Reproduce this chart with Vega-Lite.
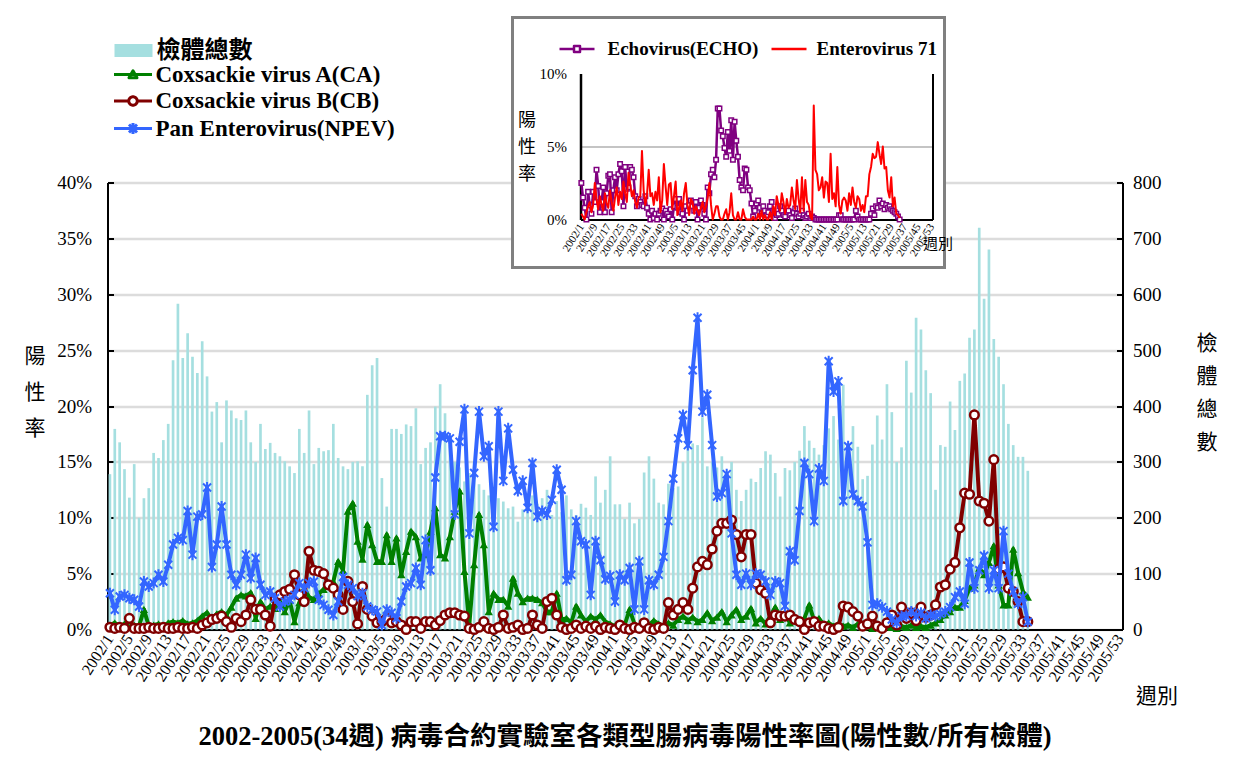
{
  "$schema": "https://vega.github.io/schema/vega-lite/v6.json",
  "background": "white",
  "padding": {"left": 8.5, "top": 9.5, "right": 0, "bottom": 0},
  "spacing": 0,
  "bounds": "flush",
  "resolve": {
    "scale": {"stroke": "independent", "strokeDash": "independent", "fill": "independent", "opacity": "independent", "strokeWidth": "independent"},
    "legend": {"stroke": "independent", "strokeDash": "independent", "fill": "independent", "opacity": "independent", "strokeWidth": "independent"}
  },
  "config": {
    "font": "Liberation Serif",
    "view": {"stroke": null},
    "axis": {"labelFont": "Liberation Serif", "titleFont": "Noto Sans CJK TC", "labelColor": "black", "titleColor": "black", "domainColor": "black", "tickColor": "black"},
    "legend": {"labelFont": "Liberation Serif, Noto Sans CJK TC", "labelFontWeight": "bold", "labelColor": "black", "labelLimit": 500, "title": null, "orient": "none", "padding": 0},
    "line": {"strokeJoin": "round"}
  },
  "datasets": {
    "weeks": [
      {"w":"2002/1","n":278,"ca":0.4,"cb":0.2,"npev":3.25,"echo":2.5,"ev71":0.4},
      {"w":"2002/2","n":359,"ca":0.6,"cb":0.1,"npev":1.76,"echo":1.5,"ev71":0.2},
      {"w":"2002/3","n":335,"ca":0.3,"cb":0.2,"npev":2.96,"echo":0.8,"ev71":0.0},
      {"w":"2002/4","n":287,"ca":0.5,"cb":0.1,"npev":3.1,"echo":0.0,"ev71":0.5},
      {"w":"2002/5","n":236,"ca":0.2,"cb":1.0,"npev":2.8,"echo":1.9,"ev71":0.9},
      {"w":"2002/6","n":296,"ca":0.4,"cb":0.1,"npev":2.66,"echo":1.0,"ev71":1.2},
      {"w":"2002/7","n":200,"ca":0.3,"cb":0.1,"npev":2.06,"echo":0.4,"ev71":0.5},
      {"w":"2002/8","n":235,"ca":1.8,"cb":0.1,"npev":4.3,"echo":1.9,"ev71":1.0},
      {"w":"2002/9","n":253,"ca":0.3,"cb":0.2,"npev":3.85,"echo":1.2,"ev71":2.5},
      {"w":"2002/10","n":316,"ca":0.4,"cb":0.1,"npev":4.15,"echo":3.4,"ev71":1.4},
      {"w":"2002/11","n":307,"ca":0.5,"cb":0.1,"npev":4.9,"echo":2.3,"ev71":0.7},
      {"w":"2002/12","n":339,"ca":0.3,"cb":0.2,"npev":4.3,"echo":0.5,"ev71":1.6},
      {"w":"2002/13","n":368,"ca":0.6,"cb":0.1,"npev":5.8,"echo":1.2,"ev71":1.0},
      {"w":"2002/14","n":482,"ca":0.7,"cb":0.1,"npev":7.6,"echo":2.2,"ev71":0.6},
      {"w":"2002/15","n":583,"ca":0.6,"cb":0.2,"npev":8.2,"echo":0.5,"ev71":1.8},
      {"w":"2002/16","n":486,"ca":0.8,"cb":0.1,"npev":8.0,"echo":1.8,"ev71":1.1},
      {"w":"2002/17","n":530,"ca":0.5,"cb":0.1,"npev":10.6,"echo":3.0,"ev71":0.8},
      {"w":"2002/18","n":488,"ca":0.6,"cb":0.2,"npev":6.7,"echo":3.1,"ev71":2.0},
      {"w":"2002/19","n":459,"ca":0.8,"cb":0.1,"npev":10.1,"echo":0.5,"ev71":1.2},
      {"w":"2002/20","n":516,"ca":1.2,"cb":0.4,"npev":10.3,"echo":2.0,"ev71":0.6},
      {"w":"2002/21","n":453,"ca":1.5,"cb":0.6,"npev":12.7,"echo":2.9,"ev71":1.5},
      {"w":"2002/22","n":390,"ca":0.9,"cb":0.9,"npev":5.6,"echo":2.0,"ev71":2.2},
      {"w":"2002/23","n":407,"ca":1.4,"cb":1.0,"npev":7.6,"echo":3.1,"ev71":1.0},
      {"w":"2002/24","n":335,"ca":1.6,"cb":1.2,"npev":11.0,"echo":3.8,"ev71":1.9},
      {"w":"2002/25","n":410,"ca":1.3,"cb":0.7,"npev":7.6,"echo":3.3,"ev71":1.4},
      {"w":"2002/26","n":392,"ca":2.0,"cb":0.2,"npev":4.9,"echo":0.9,"ev71":2.6},
      {"w":"2002/27","n":378,"ca":2.8,"cb":1.0,"npev":4.0,"echo":3.6,"ev71":1.8},
      {"w":"2002/28","n":375,"ca":3.1,"cb":0.7,"npev":4.9,"echo":2.1,"ev71":1.2},
      {"w":"2002/29","n":392,"ca":3.0,"cb":1.3,"npev":6.7,"echo":2.2,"ev71":3.2},
      {"w":"2002/30","n":335,"ca":3.3,"cb":2.66,"npev":4.6,"echo":3.6,"ev71":2.4},
      {"w":"2002/31","n":300,"ca":1.0,"cb":1.8,"npev":6.4,"echo":3.4,"ev71":1.6},
      {"w":"2002/32","n":368,"ca":2.5,"cb":1.8,"npev":4.0,"echo":2.9,"ev71":2.0},
      {"w":"2002/33","n":323,"ca":1.8,"cb":1.3,"npev":3.1,"echo":1.6,"ev71":1.2},
      {"w":"2002/34","n":334,"ca":2.1,"cb":0.3,"npev":3.4,"echo":0.9,"ev71":0.8},
      {"w":"2002/35","n":316,"ca":1.9,"cb":2.8,"npev":2.8,"echo":1.4,"ev71":1.5},
      {"w":"2002/36","n":310,"ca":2.5,"cb":3.1,"npev":2.06,"echo":1.2,"ev71":1.6},
      {"w":"2002/37","n":301,"ca":1.6,"cb":3.4,"npev":2.5,"echo":1.0,"ev71":4.7},
      {"w":"2002/38","n":292,"ca":2.6,"cb":3.6,"npev":2.66,"echo":0.9,"ev71":2.0},
      {"w":"2002/39","n":280,"ca":0.7,"cb":4.9,"npev":3.1,"echo":1.6,"ev71":1.0},
      {"w":"2002/40","n":359,"ca":2.4,"cb":3.1,"npev":4.15,"echo":0.8,"ev71":1.7},
      {"w":"2002/41","n":316,"ca":3.7,"cb":2.5,"npev":3.7,"echo":0.4,"ev71":3.4},
      {"w":"2002/42","n":392,"ca":2.9,"cb":7.0,"npev":4.15,"echo":0.0,"ev71":1.6},
      {"w":"2002/43","n":296,"ca":2.7,"cb":5.3,"npev":4.3,"echo":0.6,"ev71":1.8},
      {"w":"2002/44","n":325,"ca":3.2,"cb":5.2,"npev":2.66,"echo":0.1,"ev71":1.0},
      {"w":"2002/45","n":319,"ca":3.6,"cb":5.0,"npev":2.2,"echo":0.4,"ev71":1.9},
      {"w":"2002/46","n":321,"ca":3.9,"cb":4.0,"npev":1.76,"echo":0.0,"ev71":1.3},
      {"w":"2002/47","n":368,"ca":4.3,"cb":3.7,"npev":1.3,"echo":0.4,"ev71":2.9},
      {"w":"2002/48","n":307,"ca":6.1,"cb":3.1,"npev":2.5,"echo":0.6,"ev71":0.5},
      {"w":"2002/49","n":292,"ca":5.3,"cb":1.8,"npev":4.7,"echo":0.75,"ev71":1.3},
      {"w":"2002/50","n":287,"ca":10.6,"cb":4.3,"npev":4.0,"echo":0.0,"ev71":3.8},
      {"w":"2002/51","n":300,"ca":11.3,"cb":2.5,"npev":3.7,"echo":0.6,"ev71":2.3},
      {"w":"2002/52","n":301,"ca":7.9,"cb":0.5,"npev":3.0,"echo":0.4,"ev71":1.0},
      {"w":"2003/1","n":292,"ca":6.3,"cb":3.85,"npev":3.25,"echo":0.2,"ev71":2.4},
      {"w":"2003/2","n":420,"ca":9.4,"cb":1.8,"npev":2.06,"echo":0.7,"ev71":2.5},
      {"w":"2003/3","n":473,"ca":7.6,"cb":1.2,"npev":1.76,"echo":0.0,"ev71":0.7},
      {"w":"2003/4","n":486,"ca":6.1,"cb":0.6,"npev":1.6,"echo":0.9,"ev71":1.6},
      {"w":"2003/5","n":271,"ca":6.1,"cb":0.7,"npev":0.4,"echo":1.4,"ev71":2.6},
      {"w":"2003/6","n":220,"ca":8.5,"cb":1.0,"npev":1.76,"echo":0.8,"ev71":0.3},
      {"w":"2003/7","n":359,"ca":6.1,"cb":0.6,"npev":1.5,"echo":1.4,"ev71":0.8},
      {"w":"2003/8","n":359,"ca":8.2,"cb":0.7,"npev":1.0,"echo":0.5,"ev71":1.3},
      {"w":"2003/9","n":350,"ca":4.9,"cb":0.4,"npev":2.5,"echo":0.4,"ev71":0.6},
      {"w":"2003/10","n":367,"ca":7.0,"cb":0.0,"npev":3.85,"echo":0.0,"ev71":1.8},
      {"w":"2003/11","n":364,"ca":8.8,"cb":0.7,"npev":4.15,"echo":0.9,"ev71":2.5},
      {"w":"2003/12","n":396,"ca":8.3,"cb":0.7,"npev":5.5,"echo":0.6,"ev71":1.0},
      {"w":"2003/13","n":296,"ca":6.4,"cb":0.1,"npev":4.0,"echo":1.0,"ev71":0.3},
      {"w":"2003/14","n":325,"ca":6.7,"cb":0.7,"npev":8.0,"echo":1.3,"ev71":1.4},
      {"w":"2003/15","n":335,"ca":8.8,"cb":0.7,"npev":5.3,"echo":0.9,"ev71":1.2},
      {"w":"2003/16","n":399,"ca":10.9,"cb":0.4,"npev":13.6,"echo":0.6,"ev71":0.4},
      {"w":"2003/17","n":439,"ca":6.7,"cb":0.8,"npev":17.3,"echo":1.2,"ev71":0.9},
      {"w":"2003/18","n":387,"ca":6.4,"cb":1.3,"npev":17.3,"echo":0.0,"ev71":0.6},
      {"w":"2003/19","n":330,"ca":8.3,"cb":1.5,"npev":17.1,"echo":0.8,"ev71":0.3},
      {"w":"2003/20","n":300,"ca":10.6,"cb":1.5,"npev":10.3,"echo":1.3,"ev71":0.8},
      {"w":"2003/21","n":290,"ca":12.4,"cb":1.3,"npev":16.8,"echo":1.0,"ev71":1.2},
      {"w":"2003/22","n":265,"ca":5.2,"cb":1.2,"npev":19.7,"echo":0.4,"ev71":0.5},
      {"w":"2003/23","n":280,"ca":0.4,"cb":0.1,"npev":8.6,"echo":0.0,"ev71":0.9},
      {"w":"2003/24","n":300,"ca":5.8,"cb":0.0,"npev":14.0,"echo":2.2,"ev71":1.5},
      {"w":"2003/25","n":260,"ca":10.3,"cb":0.2,"npev":19.5,"echo":1.8,"ev71":2.5},
      {"w":"2003/26","n":250,"ca":7.6,"cb":0.7,"npev":15.5,"echo":3.1,"ev71":1.0},
      {"w":"2003/27","n":240,"ca":1.6,"cb":0.1,"npev":16.4,"echo":3.4,"ev71":0.0},
      {"w":"2003/28","n":245,"ca":3.25,"cb":0.0,"npev":9.2,"echo":2.9,"ev71":0.4},
      {"w":"2003/29","n":235,"ca":2.7,"cb":0.2,"npev":19.5,"echo":4.1,"ev71":0.9},
      {"w":"2003/30","n":229,"ca":2.7,"cb":1.3,"npev":13.3,"echo":7.6,"ev71":0.9},
      {"w":"2003/31","n":217,"ca":2.1,"cb":0.1,"npev":18.0,"echo":7.6,"ev71":0.2},
      {"w":"2003/32","n":220,"ca":4.6,"cb":0.2,"npev":14.3,"echo":6.1,"ev71":0.0},
      {"w":"2003/33","n":193,"ca":3.25,"cb":0.4,"npev":12.4,"echo":5.7,"ev71":0.0},
      {"w":"2003/34","n":215,"ca":2.5,"cb":0.0,"npev":13.3,"echo":4.9,"ev71":0.4},
      {"w":"2003/35","n":230,"ca":2.8,"cb":0.1,"npev":10.9,"echo":4.3,"ev71":0.7},
      {"w":"2003/36","n":240,"ca":2.8,"cb":1.3,"npev":14.9,"echo":6.0,"ev71":0.0},
      {"w":"2003/37","n":225,"ca":2.7,"cb":0.4,"npev":10.1,"echo":4.7,"ev71":0.5},
      {"w":"2003/38","n":235,"ca":2.4,"cb":0.1,"npev":10.6,"echo":6.8,"ev71":1.8},
      {"w":"2003/39","n":250,"ca":1.6,"cb":2.5,"npev":10.3,"echo":4.1,"ev71":0.3},
      {"w":"2003/40","n":205,"ca":1.6,"cb":2.8,"npev":11.6,"echo":6.7,"ev71":0.0},
      {"w":"2003/41","n":230,"ca":3.25,"cb":1.3,"npev":14.3,"echo":5.4,"ev71":0.0},
      {"w":"2003/42","n":210,"ca":0.9,"cb":0.2,"npev":12.5,"echo":4.3,"ev71":0.5},
      {"w":"2003/43","n":240,"ca":1.0,"cb":0.0,"npev":4.4,"echo":2.7,"ev71":0.0},
      {"w":"2003/44","n":215,"ca":0.6,"cb":0.1,"npev":4.9,"echo":2.2,"ev71":0.0},
      {"w":"2003/45","n":205,"ca":2.1,"cb":0.4,"npev":9.7,"echo":2.0,"ev71":0.7},
      {"w":"2003/46","n":225,"ca":1.3,"cb":0.1,"npev":7.9,"echo":3.5,"ev71":0.2},
      {"w":"2003/47","n":218,"ca":0.7,"cb":0.3,"npev":7.6,"echo":3.4,"ev71":0.0},
      {"w":"2003/48","n":205,"ca":1.2,"cb":0.1,"npev":3.1,"echo":2.2,"ev71":0.0},
      {"w":"2003/49","n":274,"ca":0.9,"cb":0.3,"npev":7.9,"echo":2.0,"ev71":0.0},
      {"w":"2003/50","n":227,"ca":1.3,"cb":0.0,"npev":6.2,"echo":1.1,"ev71":0.0},
      {"w":"2003/51","n":250,"ca":0.7,"cb":0.2,"npev":4.5,"echo":0.2,"ev71":0.2},
      {"w":"2003/52","n":310,"ca":0.5,"cb":0.1,"npev":4.8,"echo":0.6,"ev71":0.0},
      {"w":"2004/1","n":224,"ca":0.3,"cb":0.0,"npev":2.5,"echo":1.1,"ev71":0.0},
      {"w":"2004/2","n":224,"ca":0.6,"cb":0.4,"npev":4.9,"echo":1.3,"ev71":0.4},
      {"w":"2004/3","n":198,"ca":0.4,"cb":0.1,"npev":4.4,"echo":0.8,"ev71":0.0},
      {"w":"2004/4","n":227,"ca":1.8,"cb":0.0,"npev":5.5,"echo":0.4,"ev71":0.6},
      {"w":"2004/5","n":190,"ca":0.5,"cb":0.2,"npev":1.8,"echo":0.9,"ev71":0.0},
      {"w":"2004/6","n":198,"ca":0.3,"cb":0.1,"npev":6.1,"echo":0.6,"ev71":0.3},
      {"w":"2004/7","n":281,"ca":0.6,"cb":0.6,"npev":1.8,"echo":0.3,"ev71":0.0},
      {"w":"2004/8","n":310,"ca":0.4,"cb":0.1,"npev":4.4,"echo":0.5,"ev71":0.0},
      {"w":"2004/9","n":270,"ca":0.8,"cb":0.0,"npev":4.0,"echo":0.9,"ev71":0.5},
      {"w":"2004/10","n":227,"ca":0.5,"cb":0.2,"npev":4.9,"echo":1.2,"ev71":0.0},
      {"w":"2004/11","n":224,"ca":0.3,"cb":0.1,"npev":6.5,"echo":0.6,"ev71":0.9},
      {"w":"2004/12","n":261,"ca":0.6,"cb":2.4,"npev":9.7,"echo":0.1,"ev71":0.3},
      {"w":"2004/13","n":253,"ca":0.4,"cb":1.3,"npev":13.5,"echo":0.3,"ev71":1.6},
      {"w":"2004/14","n":256,"ca":0.9,"cb":1.8,"npev":17.1,"echo":0.4,"ev71":1.0},
      {"w":"2004/15","n":300,"ca":1.2,"cb":2.4,"npev":19.2,"echo":0.9,"ev71":0.6},
      {"w":"2004/16","n":328,"ca":0.8,"cb":1.8,"npev":16.5,"echo":0.6,"ev71":1.8},
      {"w":"2004/17","n":333,"ca":1.1,"cb":3.7,"npev":23.2,"echo":0.3,"ev71":1.2},
      {"w":"2004/18","n":330,"ca":0.7,"cb":5.6,"npev":27.9,"echo":0.2,"ev71":0.4},
      {"w":"2004/19","n":380,"ca":0.9,"cb":6.1,"npev":19.5,"echo":0.5,"ev71":1.4},
      {"w":"2004/20","n":292,"ca":1.5,"cb":5.8,"npev":21.0,"echo":0.6,"ev71":0.8},
      {"w":"2004/21","n":300,"ca":0.8,"cb":7.2,"npev":16.5,"echo":0.3,"ev71":1.0},
      {"w":"2004/22","n":290,"ca":1.1,"cb":8.8,"npev":11.9,"echo":0.1,"ev71":2.2},
      {"w":"2004/23","n":310,"ca":1.6,"cb":9.5,"npev":12.2,"echo":0.5,"ev71":1.3},
      {"w":"2004/24","n":280,"ca":0.7,"cb":9.5,"npev":13.9,"echo":0.75,"ev71":0.7},
      {"w":"2004/25","n":300,"ca":1.3,"cb":9.8,"npev":8.6,"echo":0.4,"ev71":2.7},
      {"w":"2004/26","n":250,"ca":1.8,"cb":8.5,"npev":4.9,"echo":0.2,"ev71":1.4},
      {"w":"2004/27","n":230,"ca":0.9,"cb":6.5,"npev":4.0,"echo":0.4,"ev71":0.5},
      {"w":"2004/28","n":250,"ca":1.2,"cb":8.5,"npev":5.0,"echo":0.6,"ev71":2.9},
      {"w":"2004/29","n":270,"ca":1.9,"cb":8.5,"npev":4.0,"echo":0.3,"ev71":0.6},
      {"w":"2004/30","n":264,"ca":0.6,"cb":4.15,"npev":5.0,"echo":0.1,"ev71":2.7},
      {"w":"2004/31","n":289,"ca":1.0,"cb":3.55,"npev":4.9,"echo":0.2,"ev71":1.2},
      {"w":"2004/32","n":319,"ca":0.5,"cb":3.25,"npev":4.3,"echo":0.4,"ev71":1.0},
      {"w":"2004/33","n":313,"ca":1.2,"cb":0.6,"npev":3.1,"echo":0.1,"ev71":0.2},
      {"w":"2004/34","n":280,"ca":2.0,"cb":1.3,"npev":4.3,"echo":0.2,"ev71":0.0},
      {"w":"2004/35","n":238,"ca":0.9,"cb":1.2,"npev":4.15,"echo":0.1,"ev71":7.8},
      {"w":"2004/36","n":289,"ca":1.4,"cb":1.2,"npev":2.1,"echo":0.0,"ev71":3.4},
      {"w":"2004/37","n":285,"ca":0.6,"cb":1.3,"npev":7.0,"echo":0.0,"ev71":3.1},
      {"w":"2004/38","n":300,"ca":1.1,"cb":0.9,"npev":6.2,"echo":0.0,"ev71":2.0},
      {"w":"2004/39","n":320,"ca":0.7,"cb":0.7,"npev":10.6,"echo":0.0,"ev71":2.2},
      {"w":"2004/40","n":364,"ca":1.0,"cb":0.0,"npev":14.9,"echo":0.0,"ev71":2.9},
      {"w":"2004/41","n":338,"ca":2.2,"cb":0.6,"npev":13.9,"echo":0.0,"ev71":1.5},
      {"w":"2004/42","n":325,"ca":0.8,"cb":0.7,"npev":9.7,"echo":0.0,"ev71":2.6},
      {"w":"2004/43","n":313,"ca":1.0,"cb":0.3,"npev":14.4,"echo":0.0,"ev71":2.5},
      {"w":"2004/44","n":330,"ca":0.4,"cb":0.3,"npev":13.3,"echo":0.0,"ev71":1.2},
      {"w":"2004/45","n":360,"ca":0.6,"cb":0.1,"npev":24.0,"echo":0.0,"ev71":4.5},
      {"w":"2004/46","n":382,"ca":0.3,"cb":0.0,"npev":21.3,"echo":0.0,"ev71":1.4},
      {"w":"2004/47","n":340,"ca":0.5,"cb":0.2,"npev":22.2,"echo":0.0,"ev71":1.8},
      {"w":"2004/48","n":438,"ca":0.3,"cb":2.1,"npev":11.5,"echo":0.0,"ev71":0.9},
      {"w":"2004/49","n":300,"ca":0.4,"cb":2.0,"npev":16.4,"echo":0.0,"ev71":3.6},
      {"w":"2004/50","n":364,"ca":0.2,"cb":1.6,"npev":12.1,"echo":0.3,"ev71":1.0},
      {"w":"2004/51","n":327,"ca":0.5,"cb":1.2,"npev":11.5,"echo":0.3,"ev71":0.4},
      {"w":"2004/52","n":269,"ca":0.2,"cb":0.3,"npev":11.0,"echo":0.0,"ev71":1.3},
      {"w":"2005/1","n":275,"ca":0.3,"cb":0.5,"npev":7.8,"echo":0.0,"ev71":1.5},
      {"w":"2005/2","n":331,"ca":0.1,"cb":1.2,"npev":2.2,"echo":0.0,"ev71":1.3},
      {"w":"2005/3","n":383,"ca":0.2,"cb":0.3,"npev":2.3,"echo":0.0,"ev71":0.6},
      {"w":"2005/4","n":340,"ca":0.1,"cb":0.1,"npev":2.0,"echo":0.0,"ev71":1.8},
      {"w":"2005/5","n":439,"ca":0.3,"cb":0.6,"npev":1.6,"echo":0.0,"ev71":1.0},
      {"w":"2005/6","n":389,"ca":0.2,"cb":1.3,"npev":0.9,"echo":0.0,"ev71":2.2},
      {"w":"2005/7","n":300,"ca":0.1,"cb":0.4,"npev":0.6,"echo":0.0,"ev71":1.2},
      {"w":"2005/8","n":326,"ca":0.3,"cb":2.0,"npev":1.2,"echo":0.6,"ev71":0.8},
      {"w":"2005/9","n":481,"ca":0.2,"cb":1.0,"npev":1.2,"echo":0.2,"ev71":1.6},
      {"w":"2005/10","n":424,"ca":0.4,"cb":1.5,"npev":1.6,"echo":0.0,"ev71":1.4},
      {"w":"2005/11","n":558,"ca":0.2,"cb":0.8,"npev":1.2,"echo":0.0,"ev71":0.6},
      {"w":"2005/12","n":537,"ca":0.3,"cb":2.0,"npev":1.5,"echo":0.0,"ev71":1.0},
      {"w":"2005/13","n":464,"ca":0.2,"cb":1.1,"npev":1.0,"echo":0.0,"ev71":0.5},
      {"w":"2005/14","n":423,"ca":0.4,"cb":1.3,"npev":1.3,"echo":0.0,"ev71":1.6},
      {"w":"2005/15","n":250,"ca":0.6,"cb":2.2,"npev":1.2,"echo":0.0,"ev71":1.6},
      {"w":"2005/16","n":330,"ca":0.9,"cb":3.8,"npev":1.4,"echo":0.0,"ev71":3.1},
      {"w":"2005/17","n":327,"ca":1.3,"cb":4.0,"npev":1.6,"echo":0.4,"ev71":3.6},
      {"w":"2005/18","n":408,"ca":1.6,"cb":5.4,"npev":2.0,"echo":0.75,"ev71":4.5},
      {"w":"2005/19","n":357,"ca":2.0,"cb":6.0,"npev":2.9,"echo":0.3,"ev71":4.2},
      {"w":"2005/20","n":445,"ca":2.0,"cb":9.1,"npev":3.4,"echo":0.9,"ev71":4.3},
      {"w":"2005/21","n":458,"ca":2.6,"cb":12.2,"npev":2.3,"echo":0.8,"ev71":5.3},
      {"w":"2005/22","n":522,"ca":3.7,"cb":12.1,"npev":6.0,"echo":1.3,"ev71":4.5},
      {"w":"2005/23","n":537,"ca":4.0,"cb":19.2,"npev":3.7,"echo":0.9,"ev71":3.8},
      {"w":"2005/24","n":719,"ca":5.5,"cb":11.5,"npev":5.3,"echo":1.1,"ev71":5.0},
      {"w":"2005/25","n":592,"ca":4.9,"cb":11.3,"npev":6.6,"echo":0.7,"ev71":3.5},
      {"w":"2005/26","n":680,"ca":6.0,"cb":9.7,"npev":3.7,"echo":1.0,"ev71":3.6},
      {"w":"2005/27","n":520,"ca":7.5,"cb":15.2,"npev":5.3,"echo":0.8,"ev71":2.0},
      {"w":"2005/28","n":488,"ca":4.0,"cb":5.4,"npev":3.7,"echo":0.9,"ev71":1.5},
      {"w":"2005/29","n":439,"ca":2.2,"cb":5.6,"npev":8.8,"echo":0.7,"ev71":2.9},
      {"w":"2005/30","n":368,"ca":2.2,"cb":3.7,"npev":5.0,"echo":0.6,"ev71":0.9},
      {"w":"2005/31","n":330,"ca":7.2,"cb":3.4,"npev":3.4,"echo":0.5,"ev71":1.5},
      {"w":"2005/32","n":309,"ca":5.1,"cb":2.5,"npev":2.3,"echo":0.4,"ev71":0.4},
      {"w":"2005/33","n":309,"ca":3.4,"cb":0.7,"npev":2.9,"echo":0.2,"ev71":0.3},
      {"w":"2005/34","n":284,"ca":2.9,"cb":0.7,"npev":0.7,"echo":0.0,"ev71":0.1}
    ]
  },
  "vconcat": [
    {
      "width": 1015,
      "height": 1,
      "data": {"name": "weeks"},
      "title": {"text": "2002-2005(34週) 病毒合約實驗室各類型腸病毒陽性率圖(陽性數/所有檢體)", "orient": "bottom", "anchor": "middle", "dx": 10, "offset": 17, "font": "Liberation Serif, Noto Sans CJK TC", "fontSize": 26.5, "fontWeight": "bold", "color": "black"},
      "encoding": {
        "x": {
          "field": "w", "type": "ordinal",
          "scale": {"paddingInner": 0.45, "paddingOuter": 0.225, "domain": ["2002/1","2002/2","2002/3","2002/4","2002/5","2002/6","2002/7","2002/8","2002/9","2002/10","2002/11","2002/12","2002/13","2002/14","2002/15","2002/16","2002/17","2002/18","2002/19","2002/20","2002/21","2002/22","2002/23","2002/24","2002/25","2002/26","2002/27","2002/28","2002/29","2002/30","2002/31","2002/32","2002/33","2002/34","2002/35","2002/36","2002/37","2002/38","2002/39","2002/40","2002/41","2002/42","2002/43","2002/44","2002/45","2002/46","2002/47","2002/48","2002/49","2002/50","2002/51","2002/52","2003/1","2003/2","2003/3","2003/4","2003/5","2003/6","2003/7","2003/8","2003/9","2003/10","2003/11","2003/12","2003/13","2003/14","2003/15","2003/16","2003/17","2003/18","2003/19","2003/20","2003/21","2003/22","2003/23","2003/24","2003/25","2003/26","2003/27","2003/28","2003/29","2003/30","2003/31","2003/32","2003/33","2003/34","2003/35","2003/36","2003/37","2003/38","2003/39","2003/40","2003/41","2003/42","2003/43","2003/44","2003/45","2003/46","2003/47","2003/48","2003/49","2003/50","2003/51","2003/52","2004/1","2004/2","2004/3","2004/4","2004/5","2004/6","2004/7","2004/8","2004/9","2004/10","2004/11","2004/12","2004/13","2004/14","2004/15","2004/16","2004/17","2004/18","2004/19","2004/20","2004/21","2004/22","2004/23","2004/24","2004/25","2004/26","2004/27","2004/28","2004/29","2004/30","2004/31","2004/32","2004/33","2004/34","2004/35","2004/36","2004/37","2004/38","2004/39","2004/40","2004/41","2004/42","2004/43","2004/44","2004/45","2004/46","2004/47","2004/48","2004/49","2004/50","2004/51","2004/52","2005/1","2005/2","2005/3","2005/4","2005/5","2005/6","2005/7","2005/8","2005/9","2005/10","2005/11","2005/12","2005/13","2005/14","2005/15","2005/16","2005/17","2005/18","2005/19","2005/20","2005/21","2005/22","2005/23","2005/24","2005/25","2005/26","2005/27","2005/28","2005/29","2005/30","2005/31","2005/32","2005/33","2005/34","2005/35","2005/36","2005/37","2005/38","2005/39","2005/40","2005/41","2005/42","2005/43","2005/44","2005/45","2005/46","2005/47","2005/48","2005/49","2005/50","2005/51","2005/52","2005/53"]},
          "axis": {
            "offset": 612,
            "values": ["2002/1","2002/5","2002/9","2002/13","2002/17","2002/21","2002/25","2002/29","2002/33","2002/37","2002/41","2002/45","2002/49","2003/1","2003/5","2003/9","2003/13","2003/17","2003/21","2003/25","2003/29","2003/33","2003/37","2003/41","2003/45","2003/49","2004/1","2004/5","2004/9","2004/13","2004/17","2004/21","2004/25","2004/29","2004/33","2004/37","2004/41","2004/45","2004/49","2005/1","2005/5","2005/9","2005/13","2005/17","2005/21","2005/25","2005/29","2005/33","2005/37","2005/41","2005/45","2005/49","2005/53"],
            "labelAngle": -57, "labelAlign": "right", "labelBaseline": "middle", "labelFontSize": 16, "labelPadding": 6, "labelOverlap": false,
            "ticks": false, "domainWidth": 2, "grid": false,
            "title": "週別", "titleFontSize": 21, "titleFontWeight": "normal", "titleX": 1049, "titleY": 67, "titleAlign": "center", "titleBaseline": "middle"
          }
        }
      },
      "layer": [
        {
          "mark": {"type": "bar"},
          "encoding": {
            "y": {"field": "n", "type": "quantitative", "scale": {"domain": [0, 800], "range": [613, 166]},
              "axis": {"orient": "right", "values": [0,100,200,300,400,500,600,700,800], "labelFontSize": 19, "labelPadding": 16, "tickSize": -6, "tickWidth": 2, "domainWidth": 2, "grid": false,
                "title": ["檢","體","總","數"], "titleAngle": 0, "titleX": 84, "titleY": 316, "titleAlign": "center", "titleBaseline": "top", "titleFontSize": 21, "titleFontWeight": "normal", "titleLineHeight": 33}},
            "fill": {"datum": "檢體總數", "scale": {"range": ["#a5dfe0"]},
              "legend": {"legendX": 14, "legendY": 22, "symbolType": "M-3.8,-1.3H3.8V1.3H-3.8Z", "symbolSize": 100, "symbolStrokeWidth": 0, "labelOffset": 11, "labelFontSize": 24}},
            "strokeWidth": {"datum": "frame", "type": "ordinal", "scale": {"range": [0, 0]},
              "legend": {"legendX": -98, "legendY": -6, "padding": 5, "labelExpr": "''", "symbolSize": 1, "symbolOpacity": 0, "symbolStrokeColor": "transparent", "symbolFillColor": "transparent", "labelOffset": 0, "labelFontSize": 1, "strokeColor": "transparent"}}
          }
        },
        {
          "layer": [
            {
              "mark": {"type": "line", "strokeWidth": 4},
              "encoding": {
                "y": {"field": "ca", "type": "quantitative", "scale": {"domain": [0, 40], "range": [613, 166]},
                  "axis": {"orient": "left", "values": [0,5,10,15,20,25,30,35,40], "labelExpr": "datum.value + '%'", "labelFontSize": 19, "labelPadding": 22, "tickSize": -6, "tickWidth": 2, "domainWidth": 2, "grid": true, "gridColor": "#dcdcdc", "gridWidth": 2.5,
                    "title": ["陽","性","率"], "titleAngle": 0, "titleX": -73, "titleY": 329, "titleAlign": "center", "titleBaseline": "top", "titleFontSize": 21, "titleFontWeight": "normal", "titleLineHeight": 36}},
                "stroke": {"datum": "Coxsackie virus A(CA)", "scale": {"range": ["#008000"]},
                  "legend": {"legendX": 14, "legendY": 46.5, "symbolType": "M-3.8,0H3.8M-0.8,0.65L0,-0.75L0.8,0.65Z", "symbolSize": 100, "symbolStrokeWidth": 3, "symbolFillColor": "transparent", "labelOffset": 11, "labelFontSize": 23}}
              }
            },
            {
              "mark": {"type": "point", "shape": "triangle-up", "filled": true, "size": 70, "color": "#008000", "opacity": 1},
              "encoding": {
                "y": {"field": "ca", "type": "quantitative", "scale": {"domain": [0, 40], "range": [613, 166]},
                  "axis": {"orient": "left", "values": [0,5,10,15,20,25,30,35,40], "labelExpr": "datum.value + '%'", "labelFontSize": 19, "labelPadding": 22, "tickSize": -6, "tickWidth": 2, "domainWidth": 2, "grid": true, "gridColor": "#dcdcdc", "gridWidth": 2.5,
                    "title": ["陽","性","率"], "titleAngle": 0, "titleX": -73, "titleY": 329, "titleAlign": "center", "titleBaseline": "top", "titleFontSize": 21, "titleFontWeight": "normal", "titleLineHeight": 36}}
              }
            },
            {
              "mark": {"type": "line", "strokeWidth": 4, "color": "#800000"},
              "encoding": {
                "y": {"field": "cb", "type": "quantitative", "scale": {"domain": [0, 40], "range": [613, 166]},
                  "axis": {"orient": "left", "values": [0,5,10,15,20,25,30,35,40], "labelExpr": "datum.value + '%'", "labelFontSize": 19, "labelPadding": 22, "tickSize": -6, "tickWidth": 2, "domainWidth": 2, "grid": true, "gridColor": "#dcdcdc", "gridWidth": 2.5,
                    "title": ["陽","性","率"], "titleAngle": 0, "titleX": -73, "titleY": 329, "titleAlign": "center", "titleBaseline": "top", "titleFontSize": 21, "titleFontWeight": "normal", "titleLineHeight": 36}},
                "strokeDash": {"datum": "Coxsackie virus B(CB)", "scale": {"range": [[1, 0]]},
                  "legend": {"legendX": 14, "legendY": 73, "symbolType": "M-3.8,0H-0.85M0.85,0H3.8M0.85,0A0.85,0.85 0 1,1 -0.85,0A0.85,0.85 0 1,1 0.85,0", "symbolSize": 100, "symbolStrokeWidth": 3, "symbolStrokeColor": "#800000", "symbolFillColor": "transparent", "labelOffset": 11, "labelFontSize": 23}}
              }
            },
            {
              "mark": {"type": "point", "shape": "circle", "filled": false, "fill": "white", "size": 75, "strokeWidth": 2.5, "color": "#800000", "opacity": 1},
              "encoding": {
                "y": {"field": "cb", "type": "quantitative", "scale": {"domain": [0, 40], "range": [613, 166]},
                  "axis": {"orient": "left", "values": [0,5,10,15,20,25,30,35,40], "labelExpr": "datum.value + '%'", "labelFontSize": 19, "labelPadding": 22, "tickSize": -6, "tickWidth": 2, "domainWidth": 2, "grid": true, "gridColor": "#dcdcdc", "gridWidth": 2.5,
                    "title": ["陽","性","率"], "titleAngle": 0, "titleX": -73, "titleY": 329, "titleAlign": "center", "titleBaseline": "top", "titleFontSize": 21, "titleFontWeight": "normal", "titleLineHeight": 36}}
              }
            },
            {
              "mark": {"type": "line", "strokeWidth": 4, "color": "#3366ff"},
              "encoding": {
                "y": {"field": "npev", "type": "quantitative", "scale": {"domain": [0, 40], "range": [613, 166]},
                  "axis": {"orient": "left", "values": [0,5,10,15,20,25,30,35,40], "labelExpr": "datum.value + '%'", "labelFontSize": 19, "labelPadding": 22, "tickSize": -6, "tickWidth": 2, "domainWidth": 2, "grid": true, "gridColor": "#dcdcdc", "gridWidth": 2.5,
                    "title": ["陽","性","率"], "titleAngle": 0, "titleX": -73, "titleY": 329, "titleAlign": "center", "titleBaseline": "top", "titleFontSize": 21, "titleFontWeight": "normal", "titleLineHeight": 36}},
                "opacity": {"datum": "Pan Enterovirus(NPEV)", "type": "ordinal", "scale": {"range": [1, 1]},
                  "legend": {"legendX": 14, "legendY": 100.5, "symbolType": "M-3.8,0H3.8M-0.8,-0.8L0.8,0.8M-0.8,0.8L0.8,-0.8M0,-1.1V1.1", "symbolSize": 100, "symbolStrokeWidth": 3, "symbolStrokeColor": "#3366ff", "symbolFillColor": "transparent", "labelOffset": 11, "labelFontSize": 23}}
              }
            },
            {
              "mark": {"type": "point", "shape": "M-0.8,-0.8L0.8,0.8M-0.8,0.8L0.8,-0.8M0,-1.1V1.1", "filled": false, "size": 100, "strokeWidth": 2, "color": "#3366ff", "opacity": 1},
              "encoding": {
                "y": {"field": "npev", "type": "quantitative", "scale": {"domain": [0, 40], "range": [613, 166]},
                  "axis": {"orient": "left", "values": [0,5,10,15,20,25,30,35,40], "labelExpr": "datum.value + '%'", "labelFontSize": 19, "labelPadding": 22, "tickSize": -6, "tickWidth": 2, "domainWidth": 2, "grid": true, "gridColor": "#dcdcdc", "gridWidth": 2.5,
                    "title": ["陽","性","率"], "titleAngle": 0, "titleX": -73, "titleY": 329, "titleAlign": "center", "titleBaseline": "top", "titleFontSize": 21, "titleFontWeight": "normal", "titleLineHeight": 36}}
              }
            }
          ]
        }
      ],
      "resolve": {"scale": {"y": "independent"}}
    },
    {
      "spacing": 0,
      "bounds": "flush",
      "hconcat": [
        {
          "width": 405,
          "height": 250,
          "data": {"values": []},
          "mark": "point"
        },
        {
          "width": 432,
          "height": 250,
          "view": {"fill": "white", "stroke": "#808080", "strokeWidth": 3},
          "data": {"name": "weeks"},
          "encoding": {
            "x": {
              "field": "w", "type": "ordinal",
              "scale": {"type": "point", "padding": 0.5, "range": [68, 420], "domain": ["2002/1","2002/2","2002/3","2002/4","2002/5","2002/6","2002/7","2002/8","2002/9","2002/10","2002/11","2002/12","2002/13","2002/14","2002/15","2002/16","2002/17","2002/18","2002/19","2002/20","2002/21","2002/22","2002/23","2002/24","2002/25","2002/26","2002/27","2002/28","2002/29","2002/30","2002/31","2002/32","2002/33","2002/34","2002/35","2002/36","2002/37","2002/38","2002/39","2002/40","2002/41","2002/42","2002/43","2002/44","2002/45","2002/46","2002/47","2002/48","2002/49","2002/50","2002/51","2002/52","2003/1","2003/2","2003/3","2003/4","2003/5","2003/6","2003/7","2003/8","2003/9","2003/10","2003/11","2003/12","2003/13","2003/14","2003/15","2003/16","2003/17","2003/18","2003/19","2003/20","2003/21","2003/22","2003/23","2003/24","2003/25","2003/26","2003/27","2003/28","2003/29","2003/30","2003/31","2003/32","2003/33","2003/34","2003/35","2003/36","2003/37","2003/38","2003/39","2003/40","2003/41","2003/42","2003/43","2003/44","2003/45","2003/46","2003/47","2003/48","2003/49","2003/50","2003/51","2003/52","2004/1","2004/2","2004/3","2004/4","2004/5","2004/6","2004/7","2004/8","2004/9","2004/10","2004/11","2004/12","2004/13","2004/14","2004/15","2004/16","2004/17","2004/18","2004/19","2004/20","2004/21","2004/22","2004/23","2004/24","2004/25","2004/26","2004/27","2004/28","2004/29","2004/30","2004/31","2004/32","2004/33","2004/34","2004/35","2004/36","2004/37","2004/38","2004/39","2004/40","2004/41","2004/42","2004/43","2004/44","2004/45","2004/46","2004/47","2004/48","2004/49","2004/50","2004/51","2004/52","2005/1","2005/2","2005/3","2005/4","2005/5","2005/6","2005/7","2005/8","2005/9","2005/10","2005/11","2005/12","2005/13","2005/14","2005/15","2005/16","2005/17","2005/18","2005/19","2005/20","2005/21","2005/22","2005/23","2005/24","2005/25","2005/26","2005/27","2005/28","2005/29","2005/30","2005/31","2005/32","2005/33","2005/34","2005/35","2005/36","2005/37","2005/38","2005/39","2005/40","2005/41","2005/42","2005/43","2005/44","2005/45","2005/46","2005/47","2005/48","2005/49","2005/50","2005/51","2005/52","2005/53"]},
              "axis": {
                "orient": "bottom", "offset": -48,
                "values": ["2002/1","2002/9","2002/17","2002/25","2002/33","2002/41","2002/49","2003/5","2003/13","2003/21","2003/29","2003/37","2003/45","2004/1","2004/9","2004/17","2004/25","2004/33","2004/41","2004/49","2005/5","2005/13","2005/21","2005/29","2005/37","2005/45","2005/53"],
                "labelAngle": -58, "labelAlign": "right", "labelBaseline": "middle", "labelFontSize": 11, "labelPadding": 5, "labelOverlap": false,
                "ticks": false, "domainWidth": 2, "grid": false,
                "title": "週別", "titleFontSize": 15, "titleFontWeight": "normal", "titleX": 425, "titleY": 24, "titleAlign": "center", "titleBaseline": "middle"
              }
            }
          },
          "layer": [
            {
              "mark": {"type": "line", "strokeWidth": 2.5, "point": {"shape": "square", "filled": false, "fill": "white", "size": 20, "strokeWidth": 1.5}},
              "encoding": {
                "y": {"field": "echo", "type": "quantitative", "scale": {"domain": [0, 10], "range": [202, 56]},
                  "axis": {"orient": "left", "offset": -68, "values": [0, 5, 10], "labelExpr": "datum.value + '%'", "labelFontSize": 15, "labelPadding": 14, "ticks": false, "domainWidth": 2.5,
                    "grid": true, "gridColor": "#b0b0b0", "gridWidth": 1.5, "gridOpacity": {"condition": {"test": "datum.value === 5", "value": 1}, "value": 0},
                    "title": ["陽","性","率"], "titleAngle": 0, "titleX": -54, "titleY": 94, "titleAlign": "center", "titleBaseline": "top", "titleFontSize": 18, "titleFontWeight": "normal", "titleLineHeight": 27}},
                "stroke": {"datum": "Echovirus(ECHO)", "scale": {"range": ["#800080"]},
                  "legend": {"legendX": 460, "legendY": 22, "symbolType": "M-3.5,0H-0.6M0.6,0H3.5M-0.6,-0.6H0.6V0.6H-0.6Z", "symbolSize": 100, "symbolStrokeWidth": 2.5, "symbolFillColor": "transparent", "labelOffset": 21, "labelFontSize": 19, "labelFont": "Liberation Serif"}}
              }
            },
            {
              "mark": {"type": "line", "strokeWidth": 2, "color": "#ff0000"},
              "encoding": {
                "y": {"field": "ev71", "type": "quantitative",
                  "axis": {"orient": "right", "offset": -12, "labels": false, "ticks": false, "grid": false, "domainWidth": 2, "title": null}},
                "strokeDash": {"datum": "Enterovirus 71", "scale": {"range": [[1, 0]]},
                  "legend": {"legendX": 672, "legendY": 22, "symbolType": "M-3.5,0H3.5", "symbolSize": 100, "symbolStrokeWidth": 2.5, "symbolStrokeColor": "#ff0000", "symbolFillColor": "transparent", "labelOffset": 18, "labelFontSize": 19, "labelFont": "Liberation Serif"}}
              }
            }
          ],
          "resolve": {"scale": {"y": "shared"}, "axis": {"y": "independent"}}
        }
      ]
    }
  ]
}
